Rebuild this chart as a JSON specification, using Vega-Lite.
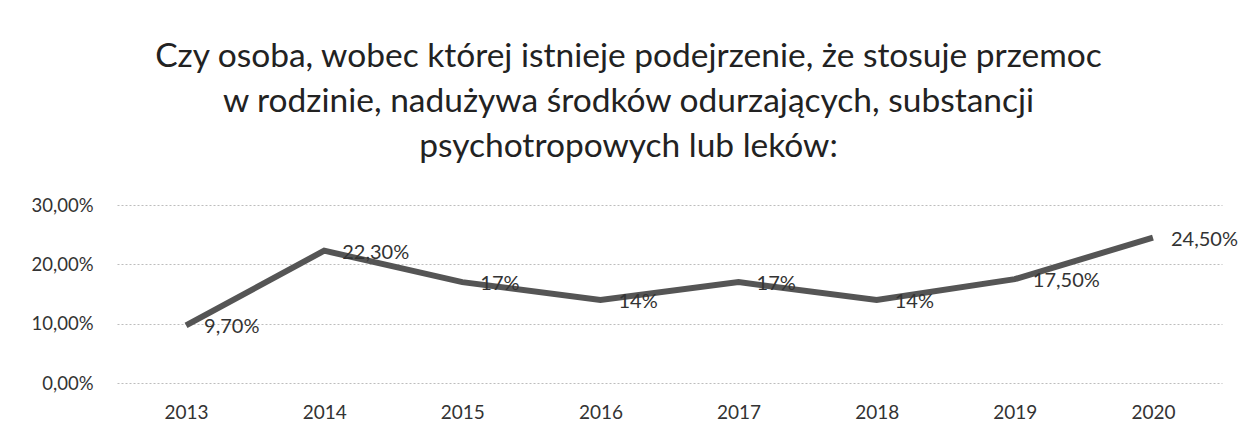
{
  "$schema": "https://vega.github.io/schema/vega-lite/v6.json",
  "autosize": {"type": "none"},
  "padding": {"left": 117, "top": 205, "right": 34, "bottom": 53},
  "width": 1105,
  "height": 178,
  "background": "white",
  "title": {
    "text": ["Czy osoba, wobec której istnieje podejrzenie, że stosuje przemoc", "w rodzinie, nadużywa środków odurzających, substancji", "psychotropowych lub leków:"],
    "anchor": "middle",
    "dx": -41,
    "font": "Lato",
    "fontSize": 33.5,
    "fontWeight": "normal",
    "color": "#222222",
    "lineHeight": 45,
    "offset": 32
  },
  "data": {
    "values": [
      {"year": "2013", "value": 9.7, "label": "9,70%"},
      {"year": "2014", "value": 22.3, "label": "22,30%"},
      {"year": "2015", "value": 17, "label": "17%"},
      {"year": "2016", "value": 14, "label": "14%"},
      {"year": "2017", "value": 17, "label": "17%"},
      {"year": "2018", "value": 14, "label": "14%"},
      {"year": "2019", "value": 17.5, "label": "17,50%"},
      {"year": "2020", "value": 24.5, "label": "24,50%"}
    ]
  },
  "encoding": {
    "x": {
      "field": "year", "type": "ordinal",
      "scale": {"type": "point", "padding": 0.5},
      "axis": {"title": null, "labelAngle": 0, "domain": false, "ticks": false, "grid": false, "labelFont": "Lato", "labelFontSize": 19, "labelColor": "#333333", "labelPadding": 20}
    },
    "y": {
      "field": "value", "type": "quantitative",
      "scale": {"domain": [0, 30]},
      "axis": {"title": null, "values": [0, 10, 20, 30], "domain": false, "ticks": false, "labelFont": "Lato", "labelFontSize": 18.5, "labelColor": "#333333", "labelPadding": 24, "gridColor": "#bdbdbd", "gridDash": [2, 2], "gridWidth": 1.2, "labelExpr": "replace(format(datum.value, '.2f'), '.', ',') + '%'"}
    }
  },
  "layer": [
    {"mark": {"type": "line", "color": "#555555", "strokeWidth": 6, "strokeJoin": "miter"}},
    {"mark": {"type": "text", "align": "left", "baseline": "middle", "dx": 18, "dy": 2, "font": "Lato", "fontSize": 20, "color": "#333333"},
     "encoding": {"text": {"field": "label"}}}
  ],
  "config": {"view": {"stroke": null}}
}
